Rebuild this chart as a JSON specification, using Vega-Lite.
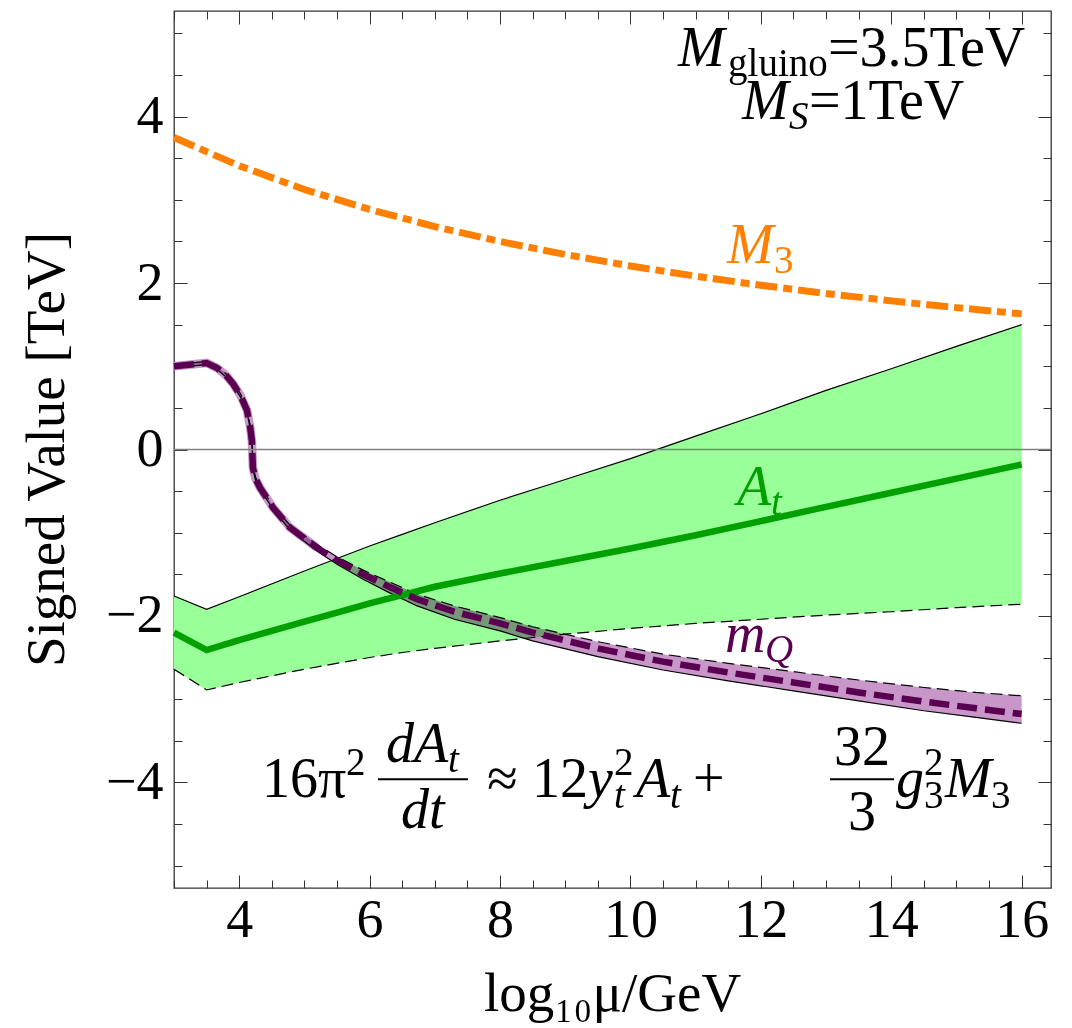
{
  "$schema": "https://vega.github.io/schema/vega-lite/v6.json",
  "width": 877,
  "height": 877,
  "autosize": {"type": "none"},
  "padding": {"left": 174, "top": 11, "right": 21, "bottom": 140},
  "background": "white",
  "config": {
    "view": {"stroke": "#333333", "strokeWidth": 1.3},
    "axis": {"grid": false, "domain": false, "labelFont": "Liberation Serif", "titleFont": "Liberation Serif", "tickColor": "#333333", "tickWidth": 1, "labelColor": "black", "titleColor": "black", "titleFontWeight": "normal", "labelOverlap": false, "labelFlush": false}
  },
  "datasets": {
    "m3": [
      {"x": 3, "v": 3.75}, {"x": 4, "v": 3.41}, {"x": 5, "v": 3.125}, {"x": 6, "v": 2.885}, {"x": 7, "v": 2.679},
      {"x": 8, "v": 2.5}, {"x": 9, "v": 2.344}, {"x": 10, "v": 2.206}, {"x": 11, "v": 2.083}, {"x": 12, "v": 1.974},
      {"x": 13, "v": 1.875}, {"x": 14, "v": 1.786}, {"x": 15, "v": 1.705}, {"x": 16, "v": 1.63}
    ],
    "at": [
      {"x": 3, "v": -2.2}, {"x": 3.5, "v": -2.41}, {"x": 4, "v": -2.29}, {"x": 4.5, "v": -2.18}, {"x": 5, "v": -2.07},
      {"x": 5.5, "v": -1.96}, {"x": 6, "v": -1.85}, {"x": 6.5, "v": -1.75}, {"x": 7, "v": -1.65}, {"x": 8, "v": -1.49},
      {"x": 9, "v": -1.34}, {"x": 10, "v": -1.19}, {"x": 11, "v": -1.03}, {"x": 12, "v": -0.86}, {"x": 13, "v": -0.69},
      {"x": 14, "v": -0.52}, {"x": 15, "v": -0.35}, {"x": 16, "v": -0.18}
    ],
    "bandA": [
      {"x": 3, "lo": -2.64, "hi": -1.76}, {"x": 3.5, "lo": -2.89, "hi": -1.92}, {"x": 4, "lo": -2.8, "hi": -1.77},
      {"x": 5, "lo": -2.64, "hi": -1.46}, {"x": 6, "lo": -2.5, "hi": -1.16}, {"x": 6.5, "lo": -2.44, "hi": -1.02},
      {"x": 7, "lo": -2.39, "hi": -0.88}, {"x": 8, "lo": -2.3, "hi": -0.61}, {"x": 9, "lo": -2.22, "hi": -0.36},
      {"x": 10, "lo": -2.15, "hi": -0.11}, {"x": 11, "lo": -2.09, "hi": 0.16}, {"x": 12, "lo": -2.04, "hi": 0.43},
      {"x": 13, "lo": -1.99, "hi": 0.71}, {"x": 14, "lo": -1.95, "hi": 0.97}, {"x": 15, "lo": -1.9, "hi": 1.24},
      {"x": 16, "lo": -1.86, "hi": 1.5}
    ],
    "mq": [
      {"x": 3.0, "v": 1.0, "lo": 0.98, "hi": 1.02}, {"x": 3.5, "v": 1.04, "lo": 1.02, "hi": 1.06},
      {"x": 3.66, "v": 0.98, "lo": 0.96, "hi": 1.0}, {"x": 3.8, "v": 0.89, "lo": 0.87, "hi": 0.91},
      {"x": 3.905, "v": 0.79, "lo": 0.77, "hi": 0.81}, {"x": 4.02, "v": 0.65, "lo": 0.63, "hi": 0.67},
      {"x": 4.12, "v": 0.47, "lo": 0.45, "hi": 0.49}, {"x": 4.17, "v": 0.26, "lo": 0.24, "hi": 0.28},
      {"x": 4.195, "v": 0.1, "lo": 0.08, "hi": 0.12}, {"x": 4.2, "v": -0.01, "lo": -0.03, "hi": 0.01},
      {"x": 4.21, "v": -0.22, "lo": -0.24, "hi": -0.2}, {"x": 4.25, "v": -0.35, "lo": -0.37, "hi": -0.33},
      {"x": 4.32, "v": -0.46, "lo": -0.48, "hi": -0.44}, {"x": 4.52, "v": -0.7, "lo": -0.72, "hi": -0.68},
      {"x": 4.78, "v": -0.94, "lo": -0.97, "hi": -0.91}, {"x": 5.19, "v": -1.18, "lo": -1.22, "hi": -1.14},
      {"x": 5.5, "v": -1.33, "lo": -1.38, "hi": -1.29}, {"x": 5.9, "v": -1.5, "lo": -1.56, "hi": -1.45},
      {"x": 6.3, "v": -1.65, "lo": -1.72, "hi": -1.59}, {"x": 6.73, "v": -1.8, "lo": -1.88, "hi": -1.74},
      {"x": 7.3, "v": -1.95, "lo": -2.04, "hi": -1.88}, {"x": 8.0, "v": -2.09, "lo": -2.18, "hi": -2.02},
      {"x": 8.5, "v": -2.2, "lo": -2.3, "hi": -2.13}, {"x": 9.5, "v": -2.39, "lo": -2.49, "hi": -2.31},
      {"x": 10.5, "v": -2.55, "lo": -2.65, "hi": -2.46}, {"x": 11.5, "v": -2.68, "lo": -2.78, "hi": -2.57},
      {"x": 12.5, "v": -2.8, "lo": -2.9, "hi": -2.67}, {"x": 13.5, "v": -2.92, "lo": -3.02, "hi": -2.77},
      {"x": 14.5, "v": -3.03, "lo": -3.14, "hi": -2.86}, {"x": 15.3, "v": -3.11, "lo": -3.22, "hi": -2.92},
      {"x": 16, "v": -3.18, "lo": -3.29, "hi": -2.96}
    ],
    "txt": [
      {"x": 10.73, "y": 4.61, "t": "M", "series": "note", "face": "it", "lvl": "base"},
      {"x": 11.497, "y": 4.49, "t": "gluino", "series": "note", "face": "rm", "lvl": "script"},
      {"x": 13.03, "y": 4.61, "t": "=3.5TeV", "series": "note", "face": "rm", "lvl": "base"},
      {"x": 11.712, "y": 3.974, "t": "M", "series": "note", "face": "it", "lvl": "base"},
      {"x": 12.433, "y": 3.853, "t": "S", "series": "note", "face": "it", "lvl": "script"},
      {"x": 12.739, "y": 3.974, "t": "=1TeV", "series": "note", "face": "rm", "lvl": "base"},
      {"x": 11.482, "y": 2.245, "t": "M", "series": "M3", "face": "it", "lvl": "base"},
      {"x": 12.202, "y": 2.125, "t": "3", "series": "M3", "face": "rm", "lvl": "script"},
      {"x": 11.635, "y": -0.672, "t": "A", "series": "At", "face": "it", "lvl": "base"},
      {"x": 12.156, "y": -0.792, "t": "t", "series": "At", "face": "it", "lvl": "script"},
      {"x": 11.451, "y": -2.437, "t": "m", "series": "mQ", "face": "it", "lvl": "base"},
      {"x": 12.064, "y": -2.557, "t": "Q", "series": "mQ", "face": "it", "lvl": "script"},
      {"x": 4.35, "y": -4.178, "t": "16π", "series": "note", "face": "rm", "lvl": "base"},
      {"x": 7.801, "y": -4.178, "t": "≈", "series": "note", "face": "rm", "lvl": "base"},
      {"x": 8.491, "y": -4.178, "t": "12", "series": "note", "face": "rm", "lvl": "base"},
      {"x": 10.96, "y": -4.178, "t": "+", "series": "note", "face": "rm", "lvl": "base"},
      {"x": 13.123, "y": -3.794, "t": "32", "series": "note", "face": "rm", "lvl": "base"},
      {"x": 13.337, "y": -4.574, "t": "3", "series": "note", "face": "rm", "lvl": "base"},
      {"x": 6.252, "y": -3.758, "t": "dA", "series": "note", "face": "it", "lvl": "base"},
      {"x": 6.482, "y": -4.55, "t": "dt", "series": "note", "face": "it", "lvl": "base"},
      {"x": 9.35, "y": -4.178, "t": "y", "series": "note", "face": "it", "lvl": "base"},
      {"x": 10.086, "y": -4.178, "t": "A", "series": "note", "face": "it", "lvl": "base"},
      {"x": 14.074, "y": -4.178, "t": "g", "series": "note", "face": "it", "lvl": "base"},
      {"x": 14.825, "y": -4.178, "t": "M", "series": "note", "face": "it", "lvl": "base"},
      {"x": 5.638, "y": -3.914, "t": "2", "series": "note", "face": "rm", "lvl": "script"},
      {"x": 9.748, "y": -3.914, "t": "2", "series": "note", "face": "rm", "lvl": "script"},
      {"x": 14.503, "y": -3.914, "t": "2", "series": "note", "face": "rm", "lvl": "script"},
      {"x": 14.503, "y": -4.31, "t": "3", "series": "note", "face": "rm", "lvl": "script"},
      {"x": 15.531, "y": -4.31, "t": "3", "series": "note", "face": "rm", "lvl": "script"},
      {"x": 7.202, "y": -3.878, "t": "t", "series": "note", "face": "it", "lvl": "script"},
      {"x": 9.748, "y": -4.31, "t": "t", "series": "note", "face": "it", "lvl": "script"},
      {"x": 10.607, "y": -4.31, "t": "t", "series": "note", "face": "it", "lvl": "script"}
    ],
    "bars": [
      {"x": 6.129, "x2": 7.509, "y": -3.962},
      {"x": 13.061, "x2": 14.043, "y": -3.962}
    ]
  },
  "resolve": {"axis": {"x": "independent", "y": "independent"}},
  "layer": [
    {
      "data": {"name": "bandA"},
      "mark": {"type": "area", "color": "#99FF99", "opacity": 1},
      "encoding": {
        "x": {"field": "x", "type": "quantitative", "scale": {"domain": [3, 16.45], "nice": false, "zero": false},
          "axis": {"orient": "bottom", "values": [4, 6, 8, 10, 12, 14, 16], "tickSize": -13, "labelFontSize": 54, "labelPadding": 18, "labelBaseline": "top",
            "title": "log₁₀μ/GeV", "titleFontSize": 55, "titleX": 438, "titleY": 122, "titleBaseline": "alphabetic", "titleAlign": "center"}},
        "y": {"field": "lo", "type": "quantitative", "scale": {"domain": [-5.27, 5.27], "nice": false, "zero": false},
          "axis": {"orient": "left", "values": [-4, -2, 0, 2, 4], "tickSize": -13, "labelFontSize": 54, "labelPadding": 24,
            "title": "Signed Value [TeV]", "titleFontSize": 55, "titleX": -111, "titleY": 438, "titleAngle": 270, "titleBaseline": "alphabetic", "titleAlign": "center"}},
        "y2": {"field": "hi"}
      }
    },
    {
      "data": {"name": "mq"},
      "transform": [{"filter": "datum.x <= 5.3"}],
      "mark": {"type": "line", "color": "#C896C8", "strokeWidth": 8.5},
      "encoding": {
        "x": {"field": "x", "type": "quantitative", "scale": {"domain": [3, 16.45], "nice": false, "zero": false},
          "axis": {"orient": "bottom", "values": [3, 3.5, 4, 4.5, 5, 5.5, 6, 6.5, 7, 7.5, 8, 8.5, 9, 9.5, 10, 10.5, 11, 11.5, 12, 12.5, 13, 13.5, 14, 14.5, 15, 15.5, 16], "tickSize": -8, "labels": false, "title": null}},
        "y": {"field": "v", "type": "quantitative", "scale": {"domain": [-5.27, 5.27], "nice": false, "zero": false},
          "axis": {"orient": "left", "values": [-5, -4.5, -4, -3.5, -3, -2.5, -2, -1.5, -1, -0.5, 0, 0.5, 1, 1.5, 2, 2.5, 3, 3.5, 4, 4.5, 5], "tickSize": -8, "labels": false, "title": null}}
      }
    },
    {
      "data": {"name": "mq"},
      "mark": {"type": "area", "color": "#C896C8", "blend": "multiply"},
      "encoding": {
        "x": {"field": "x", "type": "quantitative", "scale": {"domain": [3, 16.45], "nice": false, "zero": false},
          "axis": {"orient": "top", "values": [4, 6, 8, 10, 12, 14, 16], "tickSize": -13, "labels": false, "title": null}},
        "y": {"field": "lo", "type": "quantitative", "scale": {"domain": [-5.27, 5.27], "nice": false, "zero": false},
          "axis": {"orient": "right", "values": [-4, -2, 0, 2, 4], "tickSize": -13, "labels": false, "title": null}},
        "y2": {"field": "hi"}
      }
    },
    {
      "data": {"name": "bandA"},
      "mark": {"type": "line", "color": "black", "strokeWidth": 1.2},
      "encoding": {
        "x": {"field": "x", "type": "quantitative", "scale": {"domain": [3, 16.45], "nice": false, "zero": false},
          "axis": {"orient": "top", "values": [3, 3.5, 4, 4.5, 5, 5.5, 6, 6.5, 7, 7.5, 8, 8.5, 9, 9.5, 10, 10.5, 11, 11.5, 12, 12.5, 13, 13.5, 14, 14.5, 15, 15.5, 16], "tickSize": -8, "labels": false, "title": null}},
        "y": {"field": "hi", "type": "quantitative", "scale": {"domain": [-5.27, 5.27], "nice": false, "zero": false},
          "axis": {"orient": "right", "values": [-5, -4.5, -4, -3.5, -3, -2.5, -2, -1.5, -1, -0.5, 0, 0.5, 1, 1.5, 2, 2.5, 3, 3.5, 4, 4.5, 5], "tickSize": -8, "labels": false, "title": null}}
      }
    },
    {
      "data": {"name": "bandA"},
      "mark": {"type": "line", "color": "black", "strokeWidth": 1.2, "strokeDash": [12, 6]},
      "encoding": {
        "x": {"field": "x", "type": "quantitative", "scale": {"domain": [3, 16.45], "nice": false, "zero": false}, "axis": null},
        "y": {"field": "lo", "type": "quantitative", "scale": {"domain": [-5.27, 5.27], "nice": false, "zero": false}, "axis": null}
      }
    },
    {
      "data": {"name": "mq"},
      "mark": {"type": "line", "color": "black", "strokeWidth": 1.2, "strokeDash": [12, 6]},
      "encoding": {
        "x": {"field": "x", "type": "quantitative", "scale": {"domain": [3, 16.45], "nice": false, "zero": false}, "axis": null},
        "y": {"field": "hi", "type": "quantitative", "scale": {"domain": [-5.27, 5.27], "nice": false, "zero": false}, "axis": null}
      }
    },
    {
      "data": {"name": "mq"},
      "mark": {"type": "line", "color": "black", "strokeWidth": 1.2},
      "encoding": {
        "x": {"field": "x", "type": "quantitative", "scale": {"domain": [3, 16.45], "nice": false, "zero": false}, "axis": null},
        "y": {"field": "lo", "type": "quantitative", "scale": {"domain": [-5.27, 5.27], "nice": false, "zero": false}, "axis": null}
      }
    },
    {
      "data": {"values": [{}]},
      "mark": {"type": "rule", "color": "#808080", "strokeWidth": 1.5},
      "encoding": {
        "y": {"datum": 0, "type": "quantitative", "scale": {"domain": [-5.27, 5.27], "nice": false, "zero": false}, "axis": null}
      }
    },
    {
      "data": {"name": "at"},
      "mark": {"type": "line", "color": "#00A000", "strokeWidth": 6.5},
      "encoding": {
        "x": {"field": "x", "type": "quantitative", "scale": {"domain": [3, 16.45], "nice": false, "zero": false}, "axis": null},
        "y": {"field": "v", "type": "quantitative", "scale": {"domain": [-5.27, 5.27], "nice": false, "zero": false}, "axis": null}
      }
    },
    {
      "data": {"name": "mq"},
      "mark": {"type": "line", "color": "#5A0050", "strokeWidth": 6.5, "strokeDash": [20, 8]},
      "encoding": {
        "x": {"field": "x", "type": "quantitative", "scale": {"domain": [3, 16.45], "nice": false, "zero": false}, "axis": null},
        "y": {"field": "v", "type": "quantitative", "scale": {"domain": [-5.27, 5.27], "nice": false, "zero": false}, "axis": null}
      }
    },
    {
      "data": {"name": "m3"},
      "mark": {"type": "line", "color": "#FF8000", "strokeWidth": 7, "strokeDash": [22, 6, 9, 6]},
      "encoding": {
        "x": {"field": "x", "type": "quantitative", "scale": {"domain": [3, 16.45], "nice": false, "zero": false}, "axis": null},
        "y": {"field": "v", "type": "quantitative", "scale": {"domain": [-5.27, 5.27], "nice": false, "zero": false}, "axis": null}
      }
    },
    {
      "data": {"name": "bars"},
      "mark": {"type": "rule", "color": "black", "strokeWidth": 2},
      "encoding": {
        "x": {"field": "x", "type": "quantitative", "scale": {"domain": [3, 16.45], "nice": false, "zero": false}, "axis": null},
        "x2": {"field": "x2"},
        "y": {"field": "y", "type": "quantitative", "scale": {"domain": [-5.27, 5.27], "nice": false, "zero": false}, "axis": null}
      }
    },
    {
      "data": {"name": "txt"},
      "transform": [{"filter": "datum.face == 'it' && datum.lvl == 'base'"}],
      "mark": {"type": "text", "align": "left", "baseline": "alphabetic", "font": "Liberation Serif", "fontStyle": "italic", "fontSize": 56},
      "encoding": {
        "x": {"field": "x", "type": "quantitative", "scale": {"domain": [3, 16.45], "nice": false, "zero": false}, "axis": null},
        "y": {"field": "y", "type": "quantitative", "scale": {"domain": [-5.27, 5.27], "nice": false, "zero": false}, "axis": null},
        "text": {"field": "t"},
        "color": {"field": "series", "type": "nominal", "scale": {"domain": ["M3", "At", "mQ", "note"], "range": ["#FF8000", "#00A000", "#5A0050", "#000000"]}, "legend": null}
      }
    },
    {
      "data": {"name": "txt"},
      "transform": [{"filter": "datum.face == 'rm' && datum.lvl == 'base'"}],
      "mark": {"type": "text", "align": "left", "baseline": "alphabetic", "font": "Liberation Serif", "fontSize": 56},
      "encoding": {
        "x": {"field": "x", "type": "quantitative", "scale": {"domain": [3, 16.45], "nice": false, "zero": false}, "axis": null},
        "y": {"field": "y", "type": "quantitative", "scale": {"domain": [-5.27, 5.27], "nice": false, "zero": false}, "axis": null},
        "text": {"field": "t"},
        "color": {"field": "series", "type": "nominal", "scale": {"domain": ["M3", "At", "mQ", "note"], "range": ["#FF8000", "#00A000", "#5A0050", "#000000"]}, "legend": null}
      }
    },
    {
      "data": {"name": "txt"},
      "transform": [{"filter": "datum.face == 'it' && datum.lvl == 'script'"}],
      "mark": {"type": "text", "align": "left", "baseline": "alphabetic", "font": "Liberation Serif", "fontStyle": "italic", "fontSize": 39},
      "encoding": {
        "x": {"field": "x", "type": "quantitative", "scale": {"domain": [3, 16.45], "nice": false, "zero": false}, "axis": null},
        "y": {"field": "y", "type": "quantitative", "scale": {"domain": [-5.27, 5.27], "nice": false, "zero": false}, "axis": null},
        "text": {"field": "t"},
        "color": {"field": "series", "type": "nominal", "scale": {"domain": ["M3", "At", "mQ", "note"], "range": ["#FF8000", "#00A000", "#5A0050", "#000000"]}, "legend": null}
      }
    },
    {
      "data": {"name": "txt"},
      "transform": [{"filter": "datum.face == 'rm' && datum.lvl == 'script'"}],
      "mark": {"type": "text", "align": "left", "baseline": "alphabetic", "font": "Liberation Serif", "fontSize": 39},
      "encoding": {
        "x": {"field": "x", "type": "quantitative", "scale": {"domain": [3, 16.45], "nice": false, "zero": false}, "axis": null},
        "y": {"field": "y", "type": "quantitative", "scale": {"domain": [-5.27, 5.27], "nice": false, "zero": false}, "axis": null},
        "text": {"field": "t"},
        "color": {"field": "series", "type": "nominal", "scale": {"domain": ["M3", "At", "mQ", "note"], "range": ["#FF8000", "#00A000", "#5A0050", "#000000"]}, "legend": null}
      }
    }
  ]
}
